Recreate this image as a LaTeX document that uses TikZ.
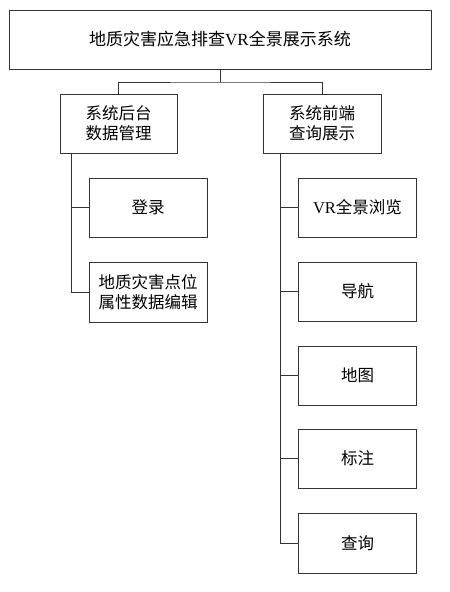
\documentclass[tikz,border=0pt]{standalone}
\usepackage{fontspec}
\setmainfont{Liberation Serif}
\newfontfamily\cjk{Noto Sans CJK SC}
\usetikzlibrary{positioning}

\begin{document}
\begin{tikzpicture}[x=1pt,y=-1pt,
 box/.style={draw=black!80,line width=.8pt,align=center,inner sep=0pt,
  font=\fontsize{16.5}{20}\selectfont\cjk,minimum width=118pt,minimum height=59pt},
 arr/.style={draw=black!80,line width=.8pt}]
\useasboundingbox (0,0) rectangle (450,592);
\node[box,minimum width=422pt,font=\fontsize{17}{21}\selectfont\cjk] (top) at (220,39.5) {地质灾害应急排查{\rmfamily VR}全景展示系统};
\node[box,minimum width=117pt] (back) at (118.5,123.5) {系统后台\\数据管理};
\node[box] (front) at (322,123.5) {系统前端\\查询展示};
\coordinate (jt) at (220,82);
\draw[arr] (top.south)--(jt);
\draw[arr] (back.north)|-(jt)-|(front.north);
% back-end branch
\node[box] (login) at (148,207.5) {登录};
\node[box,minimum height=60pt] (edit) at (148,292) {地质灾害点位\\属性数据编辑};
\draw[arr] ([xshift=12pt]back.south west)|-(edit.west);
\draw[arr] (login.west)--++(-17,0);
% front-end branch
\node[box] (vr) at (357.5,207.5) {{\rmfamily VR}全景浏览};
\node[box] (nav) at (357.5,291.5) {导航};
\node[box] (map) at (357.5,375.5) {地图};
\node[box] (mark) at (357.5,458.5) {标注};
\node[box,minimum height=60pt] (query) at (357.5,543) {查询};
\draw[arr] ([xshift=18pt]front.south west)|-(query.west);
\foreach \n in {vr,nav,map,mark} \draw[arr] (\n.west)--++(-17,0);
\end{tikzpicture}
\end{document}
